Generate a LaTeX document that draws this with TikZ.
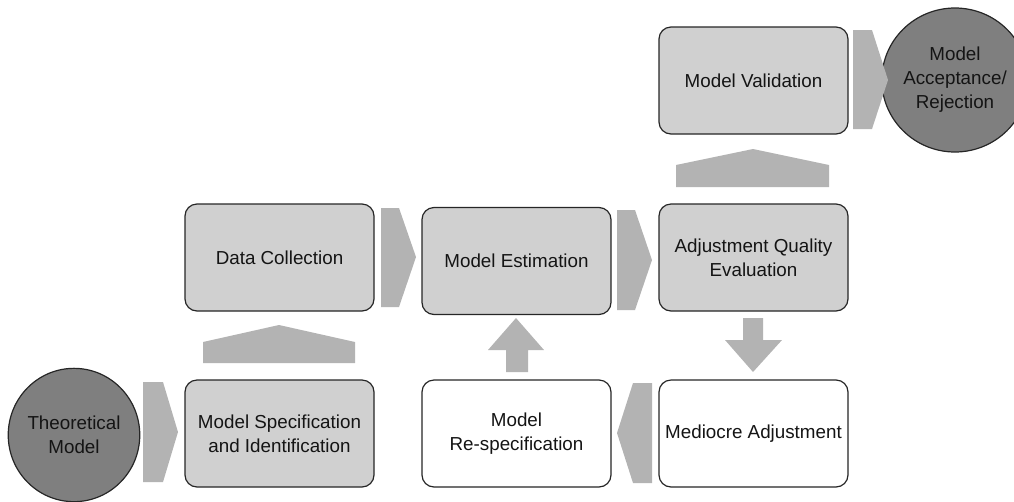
\documentclass[tikz,border=0pt]{standalone}
\usepackage{fontspec}
\setmainfont{Liberation Sans}
\usetikzlibrary{shapes.geometric}
\definecolor{boxgray}{HTML}{D0D0D0}
\definecolor{flowgray}{HTML}{B3B3B3}
\definecolor{termgray}{HTML}{7F7F7F}
\definecolor{inkcol}{HTML}{141414}
\begin{document}
\begin{tikzpicture}[x=0.75pt,y=-0.75pt,
  lbl/.style={font=\fontsize{14.1}{18}\selectfont, text=inkcol, align=center},
  stage/.style={lbl, draw=black!85, line width=0.9pt, rounded corners=9pt,
    fill=boxgray, minimum width=141.75pt, minimum height=80.25pt, inner sep=1pt},
  openstage/.style={stage, fill=white},
  term/.style={lbl, ellipse, draw=black!85, line width=0.9pt, fill=termgray, inner sep=0pt},
  flow/.style={fill=flowgray, draw=none}]
\useasboundingbox (0,0) rectangle (1014,501);

% process stages
\node[stage] (spec) at (279.5,433.5) {Model Specification\\and Identification};
\node[stage] (data) at (279.5,257.5) {Data Collection};
\node[stage] (est)  at (516.5,261)   {Model Estimation};
\node[stage] (qual) at (753.5,257.5) {Adjustment Quality\\Evaluation};
\node[stage] (val)  at (753.5,80.5)  {Model Validation};
\node[openstage] (respec) at (516.5,433.5) {Model\\Re-specification};
\node[openstage] (medio)  at (753.5,433.5) {Mediocre Adjustment};

% start and end terminals
\node[term, minimum width=96pt, minimum height=100pt] (theory) at (74,435) {Theoretical\\Model};
\node[term, minimum width=90pt, minimum height=108pt] (accept) at (955,80) {Model\\Acceptance/\\Rejection};

% chevrons pointing right
\fill[flow] (143,382) -- (163,382) -- (178,432) -- (163,482) -- (143,482) -- cycle;
\fill[flow] (381,208) -- (399,208) -- (416,257) -- (399,307) -- (381,307) -- cycle;
\fill[flow] (617,210) -- (635,210) -- (652,260) -- (635,310) -- (617,310) -- cycle;
\fill[flow] (853,30) -- (872,30) -- (888,80) -- (872,129) -- (853,129) -- cycle;
% chevron pointing left
\fill[flow] (652,383) -- (652,483) -- (633,483) -- (617,433) -- (633,383) -- cycle;

% upward pentagons
\fill[flow] (203,363) -- (203,342) -- (279,325) -- (355,342) -- (355,363) -- cycle;
\fill[flow] (676,187) -- (676,165) -- (753,149) -- (829,165) -- (829,187) -- cycle;

% block arrows
\fill[flow] (506,372) -- (506,350) -- (488,350) -- (516,318) -- (544,350) -- (528,350) -- (528,372) -- cycle;
\fill[flow] (743,318) -- (763,318) -- (763,340) -- (782,340) -- (753,372) -- (725,340) -- (743,340) -- cycle;
\end{tikzpicture}
\end{document}
